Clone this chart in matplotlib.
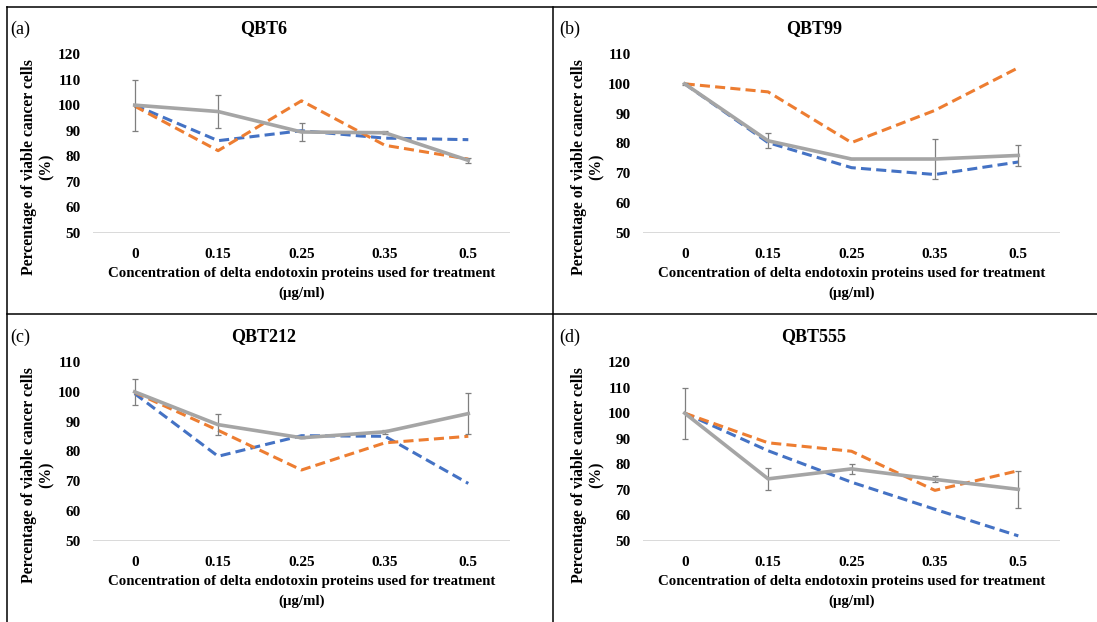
import matplotlib
matplotlib.use("Agg")
from matplotlib import pyplot as plt
from matplotlib.lines import Line2D

plt.rcParams['font.family'] = ['Liberation Serif', 'DejaVu Serif']

W, H = 1097, 622

# concentrations (ug/ml) used as category labels
concentrations = ['0', '0.15', '0.25', '0.35', '0.5']

# QBT6
qbt6_blue = [100, 86.1, 90.0, 87.1, 86.5]
qbt6_orange = [99.6, 82.2, 101.7, 84.3, 78.9]
qbt6_gray = [100, 97.5, 89.5, 89.2, 78.4]
qbt6_err = [10, 6.4, 3.7, 0.5, 1.0]

# QBT99
qbt99_blue = [100, 80.3, 71.9, 69.6, 73.8]
qbt99_orange = [100, 97.3, 80.3, 91.1, 105.4]
qbt99_gray = [100, 80.9, 74.8, 74.8, 76.0]
qbt99_err = [0.3, 2.5, 0, 6.7, 3.4]

# QBT212
qbt212_blue = [99.4, 78.4, 85.3, 85.1, 69.3]
qbt212_orange = [99.8, 87.1, 73.8, 82.9, 85.1]
qbt212_gray = [100, 89.0, 84.6, 86.6, 92.7]
qbt212_err = [4.4, 3.5, 0, 0.7, 6.8]

# QBT555
qbt555_blue = [100, 85.3, 73.0, 62.4, 52.0]
qbt555_orange = [100, 88.4, 85.1, 69.8, 77.5]
qbt555_gray = [100, 74.3, 78.2, 74.1, 70.2]
qbt555_err = [10, 4.4, 2.0, 1.2, 7.3]

BLUE = '#4472C4'
ORANGE = '#ED7D31'
GRAY = '#A5A5A5'

fig = plt.figure(figsize=(W / 100, H / 100), dpi=100)


def fx(px):
    return px / W


def fy(py):
    return 1 - py / H


def panel(letter, title, blue, orange, gray, err, ymax, x0, y0):
    # x0, y0: pixel offset of the panel cell
    left, right = x0 + 93, x0 + 510
    top, bottom = y0 + 54, y0 + 233
    ax = fig.add_axes([fx(left), fy(bottom), fx(right - left), (bottom - top) / H])
    xs = list(range(len(concentrations)))
    ax.plot(xs, blue, color=BLUE, lw=2.2, dashes=(3.3, 1.7), zorder=3)
    ax.plot(xs, orange, color=ORANGE, lw=2.2, dashes=(3.3, 1.7), zorder=3)
    ax.errorbar(xs, gray, yerr=err, color=GRAY, lw=2.6, ecolor='#7F7F7F',
                elinewidth=0.9, capsize=2.5, capthick=0.9, zorder=4)
    ax.set_xlim(-0.5, 4.5)
    ax.set_ylim(50, ymax)
    ax.set_yticks(range(50, ymax + 1, 10))
    ax.set_xticks(xs)
    ax.set_xticklabels(concentrations)
    ax.axhline(50, color='#D0D0D0', lw=1.1, zorder=1)
    for s in ax.spines.values():
        s.set_visible(False)
    ax.tick_params(length=0, labelsize=11, pad=9)
    for t in ax.get_xticklabels() + ax.get_yticklabels():
        t.set_fontweight('bold')
    ax.tick_params(axis='x', pad=11)

    fig.text(fx(x0 + 20), fy(y0 + 29), letter, fontsize=13, ha='center', va='center')
    fig.text(fx(x0 + 264), fy(y0 + 29), title, fontsize=13, fontweight='bold',
             ha='center', va='center')
    fig.text(fx(x0 + 302), fy(y0 + 274),
             'Concentration of delta endotoxin proteins used for treatment',
             fontsize=10.75, fontweight='bold', ha='center', va='center')
    fig.text(fx(x0 + 302), fy(y0 + 293), '(\u00b5g/ml)',
             fontsize=10.75, fontweight='bold', ha='center', va='center')
    fig.text(fx(x0 + 29), fy(y0 + 167), 'Percentage of viable cancer cells',
             fontsize=11.3, fontweight='bold', rotation=90, ha='center', va='center')
    fig.text(fx(x0 + 47), fy(y0 + 167), '(%)',
             fontsize=11.3, fontweight='bold', rotation=90, ha='center', va='center')


panel('(a)', 'QBT6', qbt6_blue, qbt6_orange, qbt6_gray, qbt6_err, 120, 0, 0)
panel('(b)', 'QBT99', qbt99_blue, qbt99_orange, qbt99_gray, qbt99_err, 110, 550, 0)
panel('(c)', 'QBT212', qbt212_blue, qbt212_orange, qbt212_gray, qbt212_err, 110, 0, 308)
panel('(d)', 'QBT555', qbt555_blue, qbt555_orange, qbt555_gray, qbt555_err, 120, 550, 308)

# panel frame lines
frame = dict(color='black', lw=1.1, transform=fig.transFigure)
fig.add_artist(Line2D([fx(7), fx(7)], [fy(7), 0], **frame))
fig.add_artist(Line2D([fx(7), 1], [fy(7), fy(7)], **frame))
fig.add_artist(Line2D([fx(553), fx(553)], [fy(7), 0], **frame))
fig.add_artist(Line2D([fx(7), 1], [fy(314), fy(314)], **frame))

fig.savefig('out.png', dpi=100)
